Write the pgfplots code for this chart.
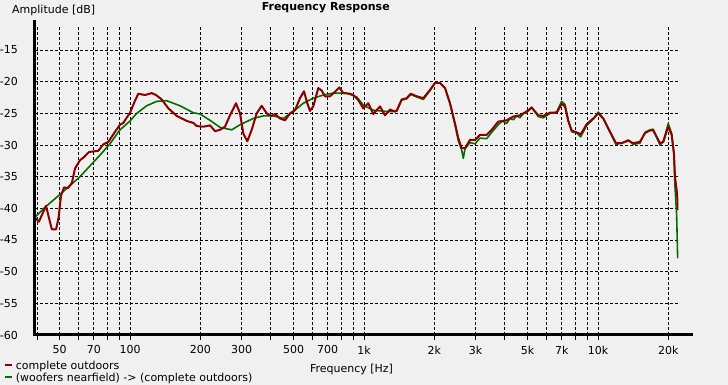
\documentclass[border=0pt]{standalone}
\usepackage{pgfplots}
\pgfplotsset{compat=1.18}
\usepackage{fontspec}
\setmainfont{DejaVu Sans}
\definecolor{bg}{RGB}{240,240,240}
\definecolor{cred}{RGB}{140,0,0}
\definecolor{cgreen}{RGB}{0,112,0}
\newcommand{\f}{\fontsize{11}{13}\selectfont}
\begin{document}
\begin{tikzpicture}
\fill[bg] (0pt,0pt) rectangle (728pt,385pt);
\begin{axis}[
 at={(35pt,50pt)}, anchor=south west,
 width=643.3pt, height=309pt, scale only axis,
 xmode=log, xmin=39.26, xmax=22050, ymin=-60, ymax=-11.2,
 axis line style={draw=none},
 xtick={50,70,100,200,300,500,700,1000,2000,3000,5000,7000,10000,20000},
 xticklabels={50,70,100,200,300,500,700,1k,2k,3k,5k,7k,10k,20k},
 minor xtick={40,60,80,90,400,600,800,900,4000,6000,8000,9000},
 ytick={-60,-55,-50,-45,-40,-35,-30,-25,-20,-15},
 yticklabels={-60,-55,-50,-45,-40,-35,-30,-25,-20,-15},
 xtick pos=bottom, ytick pos=left,
 tick align=outside,
 major tick length=5pt, minor tick length=5pt,
 xtick style={black, line width=0.8pt},
 ytick style={draw=none},
 grid=both,
 major grid style={black, line width=0.8pt, dash pattern=on 3pt off 2pt},
 minor grid style={black, line width=0.8pt, dash pattern=on 3pt off 2pt},
 tick label style={font=\f, text=black},
 xticklabel style={inner sep=0pt, yshift=-5.5pt},
 yticklabel style={inner sep=0pt, xshift=-12pt},
 title={Frequency Response},
 title style={at={(axis description cs:0.452,1)}, anchor=center, yshift=12pt, font=\f\bfseries, inner sep=0pt},
 xlabel={Frequency [Hz]},
 xlabel style={at={(axis description cs:0.492,0)}, anchor=center, yshift=-34pt, font=\f, inner sep=0pt},
 ylabel={Amplitude [dB]},
 ylabel style={rotate=-90, at={(axis description cs:-0.0358,1)}, anchor=west, yshift=16pt, font=\f, inner sep=0pt},
 legend style={at={(axis description cs:-0.048,-0.081)}, anchor=north west, draw=none, fill=none, inner sep=0pt, font=\f, row sep=0pt, column sep=2pt, nodes={text height=8.5pt, text depth=2.5pt, inner sep=0.5pt}},
 legend cell align=left,
 reverse legend,
 legend image code/.code={\draw[#1, line width=2pt] (0pt,1.5pt) -- (7pt,1.5pt);},
]
\addplot[cgreen, line width=1.6pt, line join=round] coordinates {
(39.3,-41.4) (43.4,-39.8) (50.2,-37.8) (61.1,-35.0) (74.4,-31.6) (82.1,-29.8) (90.6,-27.6) (100,-26.2) (106.8,-25.0) (117.8,-23.8) (130.1,-23.1) (143.5,-23.0) (163.6,-23.8) (186.4,-24.9) (199.2,-25.1) (219.8,-26.1) (242.4,-27.2) (272,-27.6) (295.2,-26.8) (336.5,-25.8) (371.3,-25.4) (409.7,-25.4) (452,-25.8) (498.8,-24.7) (550.3,-23.4) (607.1,-22.6) (670,-22.1) (739.3,-21.8) (843.8,-21.8) (930.8,-22.4) (993.1,-23.7) (1096,-24.5) (1250,-24.7) (1357,-24.7)
(1380,-24.6) (1449,-22.9) (1522,-22.7) (1583,-22.0) (1680,-22.4) (1793,-22.8) (1915,-21.4) (2011,-20.2) (2113,-20.2) (2220,-21.0) (2331,-23.4) (2449,-26.8) (2529,-29.3) (2615,-30.8) (2657,-32.1) (2702,-30.6) (2838,-29.6) (2981,-29.8) (3131,-28.9) (3344,-29.0) (3513,-28.0) (3749,-26.8) (3900,-26.2) (4072,-26.6) (4200,-25.8) (4345,-26.0) (4500,-25.4) (4642,-25.7) (4800,-25.0) (4958,-24.9) (5208,-24.0) (5558,-25.5) (5836,-25.7) (6234,-25.0) (6660,-24.8) (6995,-23.1) (7227,-23.6) (7466,-26.0) (7720,-27.9) (8110,-28.1) (8438,-28.7) (8950,-26.9) (9548,-25.9) (10030,-24.8) (10535,-25.8) (11254,-27.9) (11937,-29.9) (12625,-29.7) (13473,-29.2) (14153,-29.9) (15118,-29.7) (15886,-28.0) (16681,-27.6) (17231,-27.5) (18407,-30.0) (19015,-29.5) (19970,-26.6) (20654,-28.2) (21125,-31.5) (21335,-36.5) (21692,-41.0) (21908,-47.9)
};
\addlegendentry{(woofers nearfield) -> (complete outdoors)}
\addplot[cred, line width=2pt, line join=round] coordinates {
(39.3,-41.5) (40.8,-42.1) (43.75,-39.6) (46.3,-43.3) (48.3,-43.3) (49.5,-41.5) (50.7,-38.0) (52.2,-36.7) (54.3,-36.8) (56.4,-36.0) (58.2,-33.7) (61.1,-32.4) (63.6,-31.9) (66.8,-31.1) (73.2,-30.9) (76.9,-29.9) (80.8,-29.5) (86.3,-27.9) (90.6,-26.8) (93.6,-26.5) (100,-24.9) (105,-23.0) (108.5,-21.9) (115.9,-22.1) (123.8,-21.8) (129.1,-22.1) (136.6,-22.8) (145.8,-24.2) (158.4,-25.4) (174.7,-26.2) (186.4,-26.5) (192.8,-27.0) (205.7,-27.1) (219.8,-26.9) (230.8,-27.8) (242.4,-27.6) (254.7,-27.1) (267.5,-25.3) (283.8,-23.4) (295.2,-25.0) (305,-28.2) (317.2,-29.4) (331.2,-27.6) (347.9,-25.0) (365.4,-23.8) (383.9,-25.0) (403.3,-25.4) (416.6,-25.1) (437.5,-25.8) (459.6,-26.1) (482.8,-25.0) (507.1,-24.5) (532.7,-22.6) (554,-21.5) (572.3,-23.4) (587.7,-24.6) (607.1,-23.9) (637.7,-21.0) (659.4,-21.4) (681.3,-22.3) (715.7,-22.3) (751.8,-21.6) (784.3,-20.9) (815.7,-21.8) (871.3,-21.9) (900.1,-22.1) (945.4,-22.9) (993.1,-24.2) (1043,-23.4) (1096,-25.1) (1171,-23.9) (1229,-25.3) (1292,-24.4) (1357,-24.7)
(1380,-24.6) (1449,-22.8) (1522,-22.6) (1583,-21.9) (1680,-22.3) (1793,-22.6) (1915,-21.3) (2011,-20.2) (2113,-20.2) (2220,-21.0) (2331,-23.4) (2449,-26.6) (2529,-28.9) (2615,-30.5) (2702,-30.5) (2838,-29.2) (2981,-29.2) (3131,-28.4) (3344,-28.4) (3513,-27.6) (3749,-26.3) (4072,-26.1) (4345,-25.5) (4642,-25.3) (4958,-24.7) (5208,-24.1) (5558,-25.3) (5836,-25.4) (6234,-24.9) (6660,-24.9) (6995,-23.5) (7227,-23.9) (7466,-26.2) (7720,-27.7) (8110,-28.0) (8438,-28.3) (8950,-26.7) (9548,-25.8) (10030,-25.0) (10535,-25.8) (11254,-27.9) (11937,-29.7) (12625,-29.7) (13473,-29.3) (14153,-29.7) (15118,-29.5) (15886,-28.1) (16681,-27.7) (17231,-27.7) (18407,-29.7) (19015,-29.5) (19970,-27.1) (20654,-28.4) (21125,-31.3) (21335,-35.0) (21692,-37.1) (22038,-40.3)
};
\addlegendentry{complete outdoors}
\end{axis}
\draw[black, line width=3pt] (35pt,50pt) -- (692.7pt,50pt);
\draw[black, line width=2.4pt] (34.5pt,48.5pt) -- (34.5pt,365pt);
\pgfresetboundingbox
\path (0pt,0pt) rectangle (728pt,385pt);
\end{tikzpicture}
\end{document}
